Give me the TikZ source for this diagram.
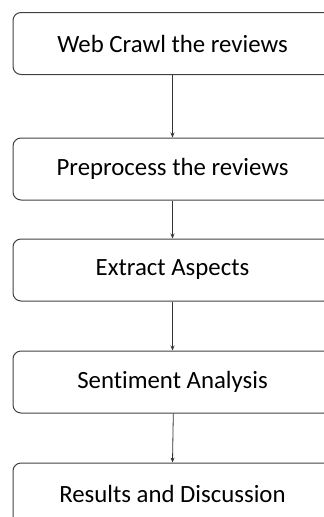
\documentclass[tikz,border=0pt]{standalone}
\usepackage{fontspec}
\setmainfont{Carlito}[Ligatures=NoCommon]
\usetikzlibrary{arrows.meta}

\tikzset{
  stage/.style={draw=black!75, line width=1pt, rounded corners=8pt,
    minimum width=319pt, minimum height=62pt, inner sep=0pt,
    font=\fontsize{24.8}{30}\selectfont},
  flow/.style={-{Stealth[length=5pt,width=4pt]}, draw=black!80, line width=0.8pt}
}

\begin{document}
\begin{tikzpicture}[x=1pt,y=-1pt]

  \useasboundingbox (0,0) rectangle (324,517);
  \pgfmathsetmacro{\midX}{172.5}

  \node[stage] (crawl) at (\midX,43.5) {Web Crawl the reviews};
  \node[stage] (prep) at (\midX,169) {Preprocess the reviews};
  \node[stage] (aspects) at (\midX,270) {Extract Aspects};
  \node[stage] (senti) at (\midX,382) {Sentiment Analysis};
  \node[stage] (result) at (\midX,494) {Results and Discussion};

  % arrows between the stages
  \draw[flow] (crawl) -- (prep);
  \draw[flow] (prep) -- (aspects);
  \draw[flow] (aspects) -- (senti);
  \draw[flow] ([xshift=0.8pt]senti.south) -- (result.north);

\end{tikzpicture}
\end{document}
